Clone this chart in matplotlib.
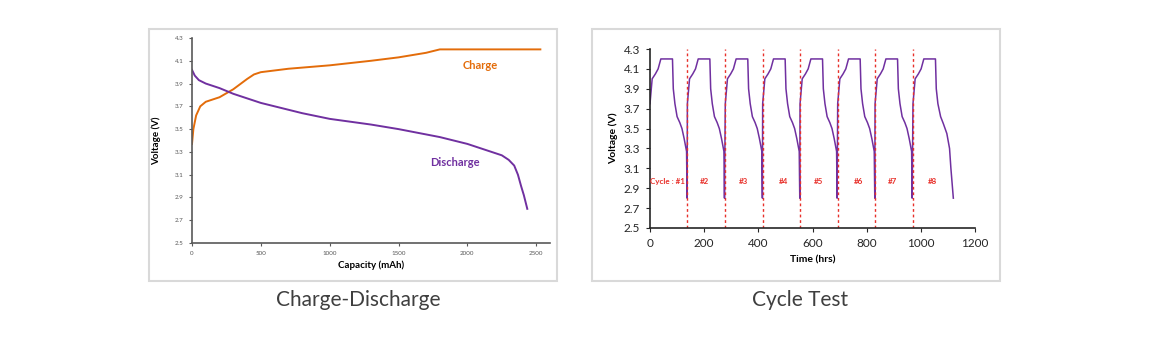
import matplotlib
matplotlib.use("Agg")
import matplotlib.pyplot as plt
from matplotlib.patches import Rectangle

# ---------------- data ----------------
charge_cap = [0, 10, 30, 60, 100, 200, 300, 400, 450, 500, 700, 1000, 1300, 1500, 1700, 1800, 2530]
charge_v = [3.37, 3.50, 3.62, 3.70, 3.74, 3.78, 3.85, 3.94, 3.98, 4.00, 4.03, 4.06, 4.10, 4.13, 4.17, 4.20, 4.20]

dis_cap = [0, 20, 50, 100, 200, 300, 500, 800, 1000, 1300, 1500, 1800, 2000, 2150, 2250, 2300, 2340, 2367, 2390, 2410, 2435]
dis_v = [4.02, 3.97, 3.93, 3.90, 3.86, 3.81, 3.73, 3.64, 3.59, 3.54, 3.50, 3.43, 3.37, 3.31, 3.27, 3.23, 3.18, 3.10, 3.00, 2.92, 2.80]

# cycle template (offset hours from cycle start, voltage)
cyc_dt = [0, 8, 20, 30, 40, 83, 86, 92, 100, 110, 118, 126, 135, 137]
cyc_v = [3.75, 4.00, 4.05, 4.10, 4.20, 4.20, 3.90, 3.75, 3.62, 3.56, 3.50, 3.40, 3.27, 2.80]
cycle_starts = [0, 138, 278, 416, 554, 693, 831, 971]
last_dt = [0, 8, 20, 30, 40, 83, 86, 92, 102, 112, 125, 135, 140, 149]
last_v = [3.75, 4.00, 4.05, 4.10, 4.20, 4.20, 3.90, 3.75, 3.62, 3.55, 3.45, 3.30, 3.10, 2.80]
divider_t = [138, 278, 416, 554, 693, 831, 971]
cycle_labels = ["Cycle : #1", "#2", "#3", "#4", "#5", "#6", "#7", "#8"]
cycle_label_t = [65, 202, 346, 493, 624, 769, 896, 1043]

volt_ticks = [2.5, 2.7, 2.9, 3.1, 3.3, 3.5, 3.7, 3.9, 4.1, 4.3]
cap_ticks = [0, 500, 1000, 1500, 2000, 2500]
time_ticks = [0, 200, 400, 600, 800, 1000, 1200]

ORANGE = "#E36C0A"
PURPLE = "#7030A0"
RED = "#E8302A"
FONT = "Lato"

plt.rcParams['font.family'] = [FONT, 'DejaVu Sans']

W, H = 1150, 344
fig = plt.figure(figsize=(W / 100, H / 100), dpi=100)

def fx(px):
    return px / W

def fy(py):
    return 1 - py / H

# panel frames
for x0, x1 in [(149, 557), (592, 1000)]:
    fig.patches.append(Rectangle((fx(x0), fy(281)), fx(x1 - x0), (281 - 29) / H,
                                 transform=fig.transFigure, fill=False,
                                 edgecolor="#D9D9D9", linewidth=1.5))

# ---------------- left chart ----------------
ax1 = fig.add_axes([fx(192), fy(243), fx(550 - 192), (243 - 38) / H])
ax1.plot(charge_cap, charge_v, color=ORANGE, lw=1.4)
ax1.plot(dis_cap, dis_v, color=PURPLE, lw=1.4)
ax1.set_xlim(0, 2600)
ax1.set_ylim(2.5, 4.3)
ax1.set_yticks(volt_ticks)
ax1.set_yticklabels([f"{v:.1f}" for v in volt_ticks])
ax1.set_xticks(cap_ticks)
for s in ["top", "right"]:
    ax1.spines[s].set_visible(False)
for s in ["left", "bottom"]:
    ax1.spines[s].set_color("#595959")
    ax1.spines[s].set_linewidth(1.2)
ax1.tick_params(axis="both", labelsize=4.5, colors="#595959", length=2, width=0.8, pad=4)
ax1.set_xlabel("Capacity (mAh)", fontsize=7, fontweight="bold", labelpad=3)
ax1.set_ylabel("Voltage (V)", fontsize=7, fontweight="bold", labelpad=10)
ax1.text(2090, 4.06, "Charge", color=ORANGE, fontsize=8, fontweight="bold", ha="center", va="center")
ax1.text(1910, 3.21, "Discharge", color=PURPLE, fontsize=8, fontweight="bold", ha="center", va="center")

# ---------------- right chart ----------------
ax2 = fig.add_axes([fx(650), fy(228), fx(975 - 650), (228 - 49) / H])
tt, vv = [], []
for i, st in enumerate(cycle_starts):
    dts, vs = (last_dt, last_v) if i == len(cycle_starts) - 1 else (cyc_dt, cyc_v)
    tt += [st + d for d in dts]
    vv += vs
ax2.plot(tt, vv, color=PURPLE, lw=1.1)
for t in divider_t:
    ax2.plot([t, t], [2.5, 4.3], color=RED, lw=1.0, ls=(0, (2, 2)))
for lab, t in zip(cycle_labels, cycle_label_t):
    ax2.text(t, 2.97, lab, color=RED, fontsize=5.8, fontweight="bold", ha="center", va="center")
ax2.set_xlim(0, 1200)
ax2.set_ylim(2.5, 4.3)
ax2.set_yticks(volt_ticks)
ax2.set_yticklabels([f"{v:.1f}" for v in volt_ticks])
ax2.set_xticks(time_ticks)
for s in ["top", "right"]:
    ax2.spines[s].set_visible(False)
for s in ["left", "bottom"]:
    ax2.spines[s].set_color("#262626")
    ax2.spines[s].set_linewidth(1.2)
ax2.tick_params(axis="both", labelsize=8.5, colors="#262626", length=3, width=0.8, pad=4)
ax2.set_xlabel("Time (hrs)", fontsize=7.5, fontweight="bold", labelpad=5)
ax2.set_ylabel("Voltage (V)", fontsize=7.5, fontweight="bold", labelpad=4)

# captions
fig.text(fx(358), fy(300), "Charge-Discharge", fontsize=15, color="#3F3F3F", ha="center", va="center")
fig.text(fx(800), fy(300), "Cycle Test", fontsize=15, color="#3F3F3F", ha="center", va="center")

fig.savefig("out.png", dpi=100)
